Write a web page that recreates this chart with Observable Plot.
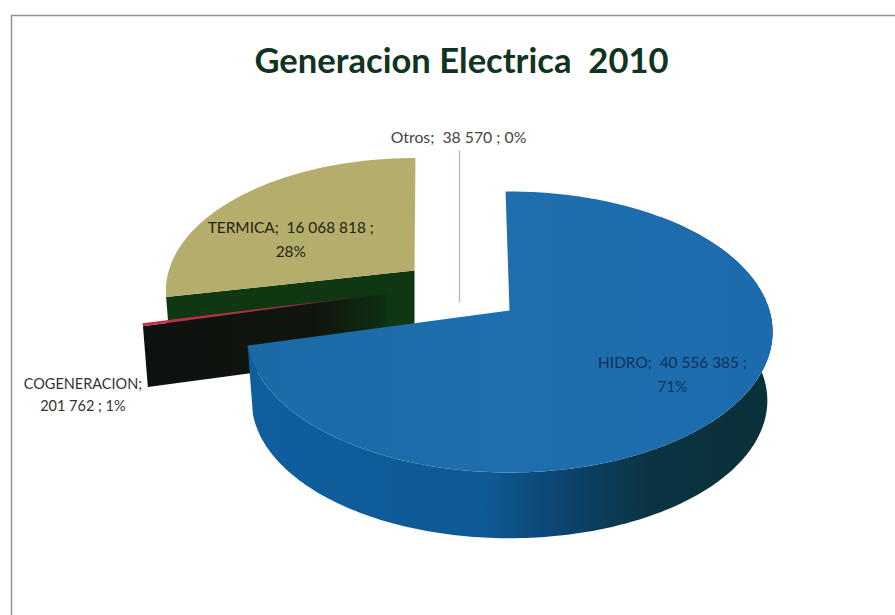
<!DOCTYPE html>
<html><head><meta charset="utf-8">
<style>html,body{margin:0;padding:0;background:#fff}</style>
<script src="https://cdn.jsdelivr.net/npm/d3@7"></script>
<script src="https://cdn.jsdelivr.net/npm/@observablehq/plot@0.6"></script>
</head><body><div id="chart"></div>
<script>
const titleText = "Generacion Electrica  2010";
const categories = ["HIDRO", "COGENERACION", "TERMICA", "Otros"];
const values = [40556385, 201762, 16068818, 38570];
const percents = [71, 1, 28, 0];

// Projection of the tilted disc, in page units
const W = 895, H = 615;
const disc = {x0: 509, y0: 310, a: 260, b: 137.2, k: 0.153, drop: 69, shrink: 0.98, start: -1};
const explode = {
  HIDRO: {dx: 0, dy: 0, s: 1, rot: 0, d: 1},
  COGENERACION: {dx: -123, dy: -17, s: 0.93, rot: 0, d: 0.89},
  TERMICA: {dx: -95, dy: -40, s: 0.945, rot: 1.5, d: 0.93},
  Otros: {dx: -50, dy: -70, s: 0.75, rot: 0, d: 0.89}
};
const total = d3.sum(values);
let acc = disc.start;
const slices = categories.map((name, i) => {
  const t0 = acc; acc += values[i] / total * 360;
  const e = explode[name];
  return {name, t0: t0 + e.rot, t1: acc + e.rot, v: values[i], pct: percents[i], ...e};
});
const bySlice = Object.fromEntries(slices.map(s => [s.name, s]));

function pt(s, deg, r = 1, low = false) {
  const t = deg * Math.PI / 180, d = 1 + disc.k * Math.cos(t);
  const f = s.s * r * (low ? disc.shrink : 1);
  return {
    x: disc.x0 + s.dx + f * disc.a * Math.sin(t) / d,
    y: disc.y0 + s.dy + (low ? disc.drop * s.d : 0) - f * disc.b * Math.cos(t) / d
  };
}
const arc = (s, a, b, low) => {
  const n = Math.max(2, Math.ceil(Math.abs(b - a))), o = [];
  for (let i = 0; i <= n; i++) o.push(pt(s, a + (b - a) * i / n, 1, low));
  return o;
};
const face = s => [pt(s, 0, 0), ...arc(s, s.t0, s.t1, false)];
const rim = (s, a, b) => [...arc(s, a, b, false), ...arc(s, b, a, true)];
const cut = (s, deg) => [pt(s, 0, 0), pt(s, deg), pt(s, deg, 1, true), pt(s, 0, 0, true)];

const poly = (pts, fill, extra = {}) => Plot.line(pts, {x: "x", y: "y", fill, stroke: "none", curve: "linear", ...extra});

const H_ = bySlice.HIDRO, C_ = bySlice.COGENERACION, T_ = bySlice.TERMICA, O_ = bySlice.Otros;
const num = d3.formatLocale({thousands: " ", grouping: [3], decimal: ","}).format(",d");

const labelRows = [
  {text: `${H_.name};  ${num(H_.v)} ;\n${H_.pct}%`, p: pt(H_, 90, 0.5), ox: 33, oy: 62, c: "#12305c", fs: 15.4},
  {text: `${T_.name};  ${num(T_.v)} ;\n${T_.pct}%`, p: pt(T_, 305, 0.62), ox: -9, oy: 9, c: "#1d2414", fs: 15.4},
  {text: `${C_.name};\n${num(C_.v)} ; ${C_.pct}%`, p: pt(C_, 258, 1.03), ox: -52, oy: 71, c: "#333", fs: 14.5},
  {text: `${O_.name};  ${num(O_.v)} ; ${O_.pct}%`, p: pt(O_, 0, 1.02), ox: -1, oy: -14, c: "#444", fs: 15.8}
].map(d => ({...d, x: d.p.x + d.ox, y: d.p.y + d.oy}));

const defs = () => {
  const svg = d3.create("svg:g");
  const d = svg.append("defs");
  const grad = (id, stops) => {
    const g = d.append("linearGradient").attr("id", id);
    stops.forEach(([o, c]) => g.append("stop").attr("offset", o).attr("stop-color", c));
  };
  grad("blueWall", [[0, "#0f5e9e"], [0.45, "#0e5a95"], [0.6, "#0c4470"], [0.76, "#0b3442"], [1, "#0a3038"]]);
  grad("blueTop", [[0, "#1b6aa6"], [0.5, "#1f6eae"], [1, "#1c6cad"]]);
  grad("redTop", [[0, "#c8304e"], [0.55, "#a82c40"], [1, "#1c1210"]]);
  grad("blackWall", [[0, "#0e120e"], [0.7, "#10150f"], [1, "#0e3012"]]);
  return svg.node();
};

const chart = Plot.plot({
  width: W, height: H,
  margin: 0,
  x: {domain: [0, W], range: [0, W], axis: null},
  y: {domain: [0, H], range: [0, H], axis: null},
  style: {background: "#fff"},
  marks: [
    defs,
    Plot.frame({stroke: "#949494", strokeWidth: 1.5, insetLeft: 11, insetTop: 15, insetRight: -10, insetBottom: -10}),
    // TERMICA
    poly(cut(T_, T_.t0), "#0e3712"),
    poly(face(T_), "#b5ad6b"),
    // Otros (a sliver seen edge-on)
    Plot.line([pt(O_, 0), pt(O_, 0, 0), pt(O_, 0, 0, true)], {x: "x", y: "y", stroke: "#c4b4b4", strokeWidth: 1.3}),
    // COGENERACION
    poly(cut(C_, C_.t0), "url(#blackWall)"),
    poly(face(C_), "url(#redTop)"),
    // HIDRO
    poly(rim(H_, 40, H_.t1), "url(#blueWall)"),
    poly(face(H_), "url(#blueTop)"),
    // labels
    Plot.text(labelRows, {x: "x", y: "y", text: "text", fill: "c", fontSize: "fs", fontFamily: "Lato", lineHeight: 1.55, textAnchor: "middle"}),
    Plot.text([titleText], {x: [461], y: [61], text: d => d, fontSize: 34.6, fontWeight: 700, fontFamily: "Lato", fill: "#12331f"})
  ],
  color: {type: "identity"}
});
document.getElementById("chart").appendChild(chart);
</script></body></html>
